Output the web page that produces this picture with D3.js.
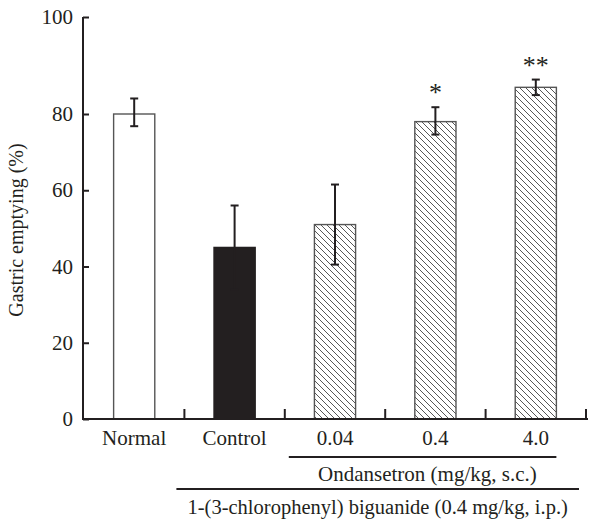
<!DOCTYPE html>
<html>
<head>
<meta charset="utf-8">
<script src="https://cdn.jsdelivr.net/npm/d3@7"></script>
<style>
  body { margin: 0; background: #fff; }
  svg text { font-family: "Liberation Serif", "DejaVu Serif", serif; fill: #231f20; }
</style>
</head>
<body>
<svg id="chart" width="592" height="523"></svg>
<script>
// data
var categories = ["Normal", "Control", "0.04", "0.4", "4.0"];
var means = [80, 45, 51, 78, 85.5];
var errors = [3.2, 11, 10.5, 3.4, 1.6];
var fills = ["white", "dark", "hatch", "hatch", "hatch"];
var marks = ["", "", "", "*", "**"];
var yTicks = [0, 20, 40, 60, 80, 100];

var ink = "#231f20";
var svg = d3.select("#chart");

// pattern for the ondansetron bars
var defs = svg.append("defs");
var pat = defs.append("pattern")
  .attr("id", "hatch")
  .attr("patternUnits", "userSpaceOnUse")
  .attr("width", 6).attr("height", 6);
pat.append("rect").attr("width", 6).attr("height", 6).attr("fill", "white");
pat.append("path")
  .attr("d", "M-1,-1 L7,7 M-4,2 L4,10 M2,-4 L10,4")
  .attr("stroke", "#444").attr("stroke-width", 0.9);

/*************************** scales ***************************/

var x = d3.scaleBand().domain(categories).range([84, 586]).padding(0);
// upper part of the axis is drawn stretched in the original figure
var y = d3.scaleLinear().domain([0, 80, 100]).range([419, 114, 17]);

var step = x.step();
var bw = step * 0.41;
var cx = function(d){ return x(d) + step / 2; };

/*************************** bars ***************************/

var rows = categories.map(function(c, i){
  return { cat: c, mean: means[i], err: errors[i], fill: fills[i], mark: marks[i] };
});

svg.selectAll("rect.bar").data(rows).enter().append("rect")
  .attr("class", "bar")
  .attr("x", function(d){ return cx(d.cat) - bw / 2; })
  .attr("y", function(d){ return y(d.mean); })
  .attr("width", bw)
  .attr("height", function(d){ return y(0) - y(d.mean); })
  .attr("fill", function(d){ return d.fill == "dark" ? ink : d.fill == "hatch" ? "url(#hatch)" : "white"; })
  .attr("stroke", function(d){ return d.fill == "dark" ? ink : "#555"; })
  .attr("stroke-width", 1.4);

// error bars
var eb = svg.selectAll("g.err").data(rows).enter().append("g").attr("class", "err");
eb.append("line")
  .attr("x1", function(d){ return cx(d.cat); }).attr("x2", function(d){ return cx(d.cat); })
  .attr("y1", function(d){ return y(d.mean - d.err); })
  .attr("y2", function(d){ return y(d.mean + d.err); });
eb.append("line")
  .attr("x1", function(d){ return cx(d.cat) - 4; }).attr("x2", function(d){ return cx(d.cat) + 4; })
  .attr("y1", function(d){ return y(d.mean + d.err); })
  .attr("y2", function(d){ return y(d.mean + d.err); });
eb.append("line")
  .attr("x1", function(d){ return cx(d.cat) - 4; }).attr("x2", function(d){ return cx(d.cat) + 4; })
  .attr("y1", function(d){ return y(d.mean - d.err); })
  .attr("y2", function(d){ return y(d.mean - d.err); });
eb.selectAll("line").attr("stroke", ink).attr("stroke-width", 2);

// significance marks
svg.selectAll("text.mark").data(rows.filter(function(d){ return d.mark; })).enter().append("text")
  .attr("class", "mark")
  .attr("x", function(d){ return cx(d.cat); })
  .attr("y", function(d){ return y(d.mean + d.err) - 6; })
  .attr("text-anchor", "middle")
  .attr("font-size", 26)
  .text(function(d){ return d.mark; });

/*************************** axes ***************************/

var yAxis = svg.append("g").attr("transform", "translate(83,0)")
  .call(d3.axisRight(y).tickValues(yTicks).tickSize(6).tickFormat(d3.format("d")));
yAxis.select(".domain").remove();
yAxis.selectAll(".tick line").attr("stroke", ink).attr("stroke-width", 2);
yAxis.selectAll(".tick text")
  .attr("x", -10).attr("text-anchor", "end")
  .attr("font-size", 21);
svg.append("line").attr("x1", 83).attr("x2", 83).attr("y1", y(100)).attr("y2", y(0) + 1)
  .attr("stroke", ink).attr("stroke-width", 2);

var xAxis = svg.append("g").attr("transform", "translate(0," + y(0) + ")")
  .call(d3.axisBottom(x).tickSize(0));
xAxis.select(".domain").remove();
xAxis.selectAll(".tick text").attr("y", 11).attr("dy", "0.71em").attr("font-size", 21);
svg.append("line").attr("x1", 82).attr("x2", 588).attr("y1", y(0)).attr("y2", y(0))
  .attr("stroke", ink).attr("stroke-width", 2);
// inward ticks between groups
svg.selectAll("line.sep").data(categories).enter().append("line")
  .attr("class", "sep")
  .attr("x1", function(d){ return x(d) + step; }).attr("x2", function(d){ return x(d) + step; })
  .attr("y1", y(0)).attr("y2", y(0) - 10)
  .attr("stroke", ink).attr("stroke-width", 2);

svg.append("text")
  .attr("transform", "translate(23," + 230 + ") rotate(-90)")
  .attr("text-anchor", "middle")
  .attr("font-size", 20)
  .text("Gastric emptying (%)");

/*************************** treatment brackets ***************************/

var ondStart = x(categories[2]) + 4;
var ondEnd = cx(categories[4]) + bw / 2;
svg.append("line").attr("x1", ondStart).attr("x2", ondEnd).attr("y1", 457).attr("y2", 457)
  .attr("stroke", ink).attr("stroke-width", 2);
svg.append("text").attr("x", (x(categories[2]) + x(categories[4]) + step) / 2 - 8).attr("y", 481)
  .attr("text-anchor", "middle").attr("font-size", 21)
  .text("Ondansetron (mg/kg, s.c.)");

var cpbStart = x(categories[1]) - 8;
var cpbEnd = x(categories[4]) + step - 7;
svg.append("line").attr("x1", cpbStart).attr("x2", cpbEnd).attr("y1", 489).attr("y2", 489)
  .attr("stroke", ink).attr("stroke-width", 2);
svg.append("text").attr("x", (cpbStart + cpbEnd) / 2).attr("y", 514)
  .attr("text-anchor", "middle").attr("font-size", 20.5)
  .text("1-(3-chlorophenyl) biguanide (0.4 mg/kg, i.p.)");
</script>
</body>
</html>
